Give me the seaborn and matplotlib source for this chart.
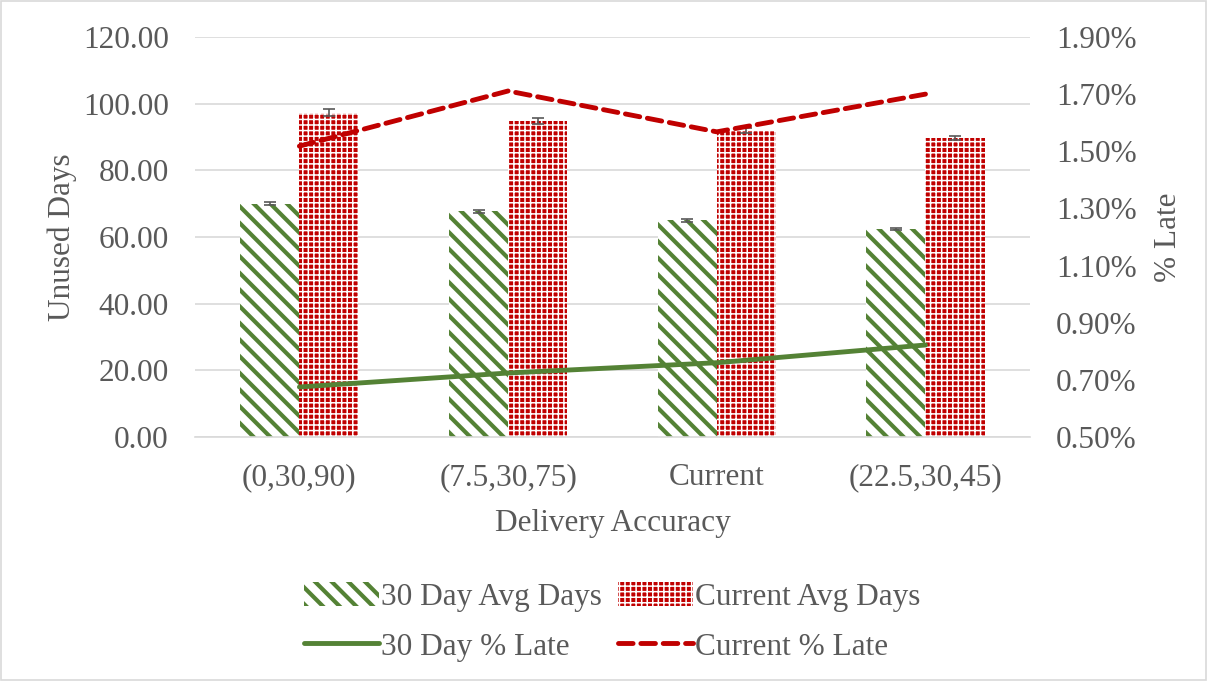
import matplotlib
matplotlib.use("Agg")
import matplotlib.pyplot as plt
import seaborn as sns
import pandas as pd
import numpy as np
from matplotlib.patches import Patch, Rectangle
from matplotlib.lines import Line2D
from matplotlib.ticker import FuncFormatter

categories = ["(0,30,90)", "(7.5,30,75)", "Current", "(22.5,30,45)"]
avg30 = [70.0, 67.7, 65.0, 62.5]
avg30_err = [0.5, 0.4, 0.4, 0.3]
avgcur = [97.3, 94.9, 92.0, 89.7]
avgcur_err = [1.0, 0.9, 0.7, 0.7]
late30 = [0.675, 0.724, 0.760, 0.822]
latecur = [1.518, 1.711, 1.568, 1.700]

GREEN = "#548235"
RED = "#C00000"
GREY = "#595959"
FS = 22.5

sns.set_theme(style="white")
plt.rcParams["font.family"] = ["Liberation Serif", "DejaVu Serif"]
plt.rcParams["hatch.linewidth"] = 3.0


def style_green(p):
    p.set_facecolor("white")
    p.set_edgecolor(GREEN)
    p.set_hatch("\\\\")
    p.set_linewidth(0)
    if hasattr(p, "set_hatch_linewidth"):
        p.set_hatch_linewidth(3.0)


def style_red(p):
    p.set_facecolor(RED)
    p.set_edgecolor("white")
    p.set_hatch("+++")
    p.set_linewidth(0)
    if hasattr(p, "set_hatch_linewidth"):
        p.set_hatch_linewidth(1.1)


fig = plt.figure(figsize=(12.07, 6.81), dpi=100)
ax = fig.add_axes([0.1616, 0.3583, 0.6916, 0.5874])

df = pd.DataFrame({
    "cat": categories * 2,
    "val": avg30 + avgcur,
    "series": ["30 Day Avg Days"] * 4 + ["Current Avg Days"] * 4,
})
sns.barplot(data=df, x="cat", y="val", hue="series", order=categories,
            hue_order=["30 Day Avg Days", "Current Avg Days"],
            palette=["white", RED], width=0.566, ax=ax, legend=False,
            errorbar=None, saturation=1)

conts = ax.containers
for p in conts[0]:
    style_green(p)
for p in conts[1]:
    style_red(p)

for cont, vals, errs in [(conts[0], avg30, avg30_err), (conts[1], avgcur, avgcur_err)]:
    xs = [p.get_x() + p.get_width() / 2 for p in cont]
    ax.errorbar(xs, vals, yerr=errs, fmt="none", ecolor=GREY, elinewidth=1.2,
                capsize=4, capthick=1.2, zorder=5)

ax.set_ylim(0, 120)
ax.set_yticks(np.arange(0, 121, 20))
ax.yaxis.set_major_formatter(FuncFormatter(lambda v, p: f"{v:.2f}"))
ax.set_xlim(-0.5, 3.5)
ax.grid(axis="y", color="#D9D9D9", linewidth=1.2)
ax.set_axisbelow(True)
for s in ["top", "left", "right"]:
    ax.spines[s].set_visible(False)
ax.spines["bottom"].set_color("#D9D9D9")
ax.spines["bottom"].set_linewidth(1.2)
ax.tick_params(axis="y", labelsize=FS, colors=GREY, length=0, pad=19)
ax.tick_params(axis="x", labelsize=FS, colors=GREY, length=0, pad=19)
ax.set_ylabel("Unused Days", fontsize=FS, color=GREY, labelpad=4)
ax.set_xlabel("Delivery Accuracy", fontsize=FS, color=GREY, labelpad=12)

ax2 = ax.twinx()
ldf = pd.DataFrame({"x": list(range(4)) * 2, "y": late30 + latecur,
                    "series": ["30 Day % Late"] * 4 + ["Current % Late"] * 4})
sns.lineplot(data=ldf[ldf.series == "30 Day % Late"], x="x", y="y", color=GREEN,
             linewidth=3.5, ax=ax2, legend=False)
sns.lineplot(data=ldf[ldf.series == "Current % Late"], x="x", y="y", color=RED,
             linewidth=3.5, ax=ax2, legend=False)
ax2.lines[-1].set_linestyle((0, (3, 1.6)))
ax2.lines[-1].set_dash_capstyle("round")
ax2.set_ylim(0.5, 1.9)
ax2.set_yticks(np.arange(0.5, 1.91, 0.2))
ax2.yaxis.set_major_formatter(FuncFormatter(lambda v, p: f"{v:.2f}%"))
ax2.set_xlim(-0.5, 3.5)
for s in ax2.spines.values():
    s.set_visible(False)
ax2.tick_params(axis="y", labelsize=FS, colors=GREY, length=0, pad=19)
ax2.set_ylabel("% Late", fontsize=FS, color=GREY, labelpad=12)
ax2.set_xlabel("")

hg = Patch(label="30 Day Avg Days")
style_green(hg)
hr = Patch(label="Current Avg Days")
style_red(hr)
handles = [
    hg,
    Line2D([0], [0], color=GREEN, linewidth=3.5),
    hr,
    Line2D([0], [0], color=RED, linewidth=3.5, linestyle=(0, (3, 1.6)), dash_capstyle="round"),
]
labels = ["30 Day Avg Days", "30 Day % Late", "Current Avg Days", "Current % Late"]
leg = fig.legend(handles, labels, loc="center", bbox_to_anchor=(0.507, 0.087), ncol=2,
                 frameon=False, fontsize=FS, handlelength=2.4, columnspacing=0.5,
                 handletextpad=0.08, labelspacing=0.65, handleheight=0.8)
for t in leg.get_texts():
    t.set_color(GREY)
lp = leg.get_patches()
if len(lp) >= 2:
    style_green(lp[0])
    style_red(lp[1])

fig.patches.append(Rectangle((0.001, 0.001), 0.998, 0.997, transform=fig.transFigure,
                             fill=False, edgecolor="#D9D9D9", linewidth=1.2))

fig.savefig("out.png", dpi=100)
